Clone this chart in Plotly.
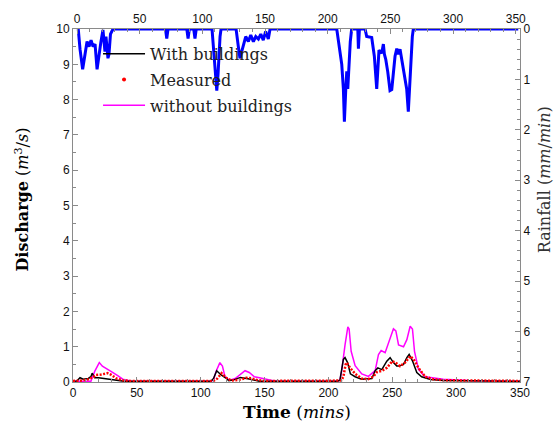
import plotly.graph_objects as go

# ---- Rainfall (top / right axes), time in minutes (top axis scale) ----
rain_t = [0, 1.0, 2.4, 4.5, 6.4, 8, 9.6, 11.2, 12.8, 14.4, 16, 17.6, 19.1, 20.7, 21.5, 22.3, 23.1, 24.7, 25.5, 26.7, 28.7,
          70.6, 71.6, 72.6, 87.6, 88.6, 89.6, 93.1, 94.1, 95.1,
          107.7, 108.9, 110.1, 111.5, 112.5, 113.3, 114.1, 114.9,
          126.9, 128.7, 130, 131.4, 132.7, 134.6, 136.7, 138.6, 140.7, 142.6, 144.7, 146.6, 148.6, 150.5, 152.6, 154,
          207.2, 209.8, 211.2, 212.5, 213.3, 214.4, 215.2, 216, 217, 218, 219.1, 224, 224.5, 225.3,
          229.8, 231.1, 235.1, 237.2, 239.1, 239.9, 240.9, 243.1, 244.4, 245.2, 246.3, 247.9, 249.7, 251.1,
          252.4, 253.7, 255.1, 256.3, 257.7, 259, 260.3, 261.7, 263, 264.3, 265.7, 266.5, 267.5, 268.3, 352]
rain_v = [0, 0, 0.4, 0.8, 0.5, 0.25, 0.35, 0.22, 0.35, 0.3, 0.8, 0.45, 0.25, 0.02, 0.35, 0.45, 0.15, 0.58, 0.5, 0.1, 0,
          0, 0.19, 0, 0, 0.19, 0, 0, 0.19, 0,
          0, 0.4, 0.8, 1.22, 0.9, 0.5, 0.15, 0,
          0, 0.35, 0.58, 0.45, 0.3, 0.15, 0.25, 0.12, 0.25, 0.15, 0.2, 0.1, 0.22, 0.05, 0.2, 0,
          0, 0.42, 0.7, 1.19, 1.84, 1.2, 0.84, 1.19, 0.54, 0.25, 0, 0, 0.39, 0,
          0, 0.15, 0.17, 0.54, 1.19, 0.75, 0.42, 0.48, 0.3, 0.5, 0.6, 0.85, 1.22, 1.2,
          0.92, 0.54, 0.39, 0.5, 0.4, 0.6, 0.8, 1.0, 1.19, 1.64, 0.95, 0.5, 0.15, 0, 0]

# ---- Discharge: with buildings ----
wb_t = [0, 3, 5.5, 8, 12, 14, 15, 17, 20, 24, 28, 32, 36, 40,
        108, 110, 112.5, 116, 120, 122, 126, 131, 136, 141, 146,
        207, 209, 211.7, 213, 215, 217.2, 220.9, 226, 234, 236.6, 238.7, 241.8, 245.7, 248.3, 250.9,
        253.5, 255.3, 258.8, 261.4, 263.2, 265.8, 269.2, 273, 280, 290, 350]
wb_q = [0.02, 0.03, 0.12, 0.08, 0.1, 0.15, 0.25, 0.12, 0.12, 0.1, 0.08, 0.06, 0.04, 0.02,
        0.02, 0.1, 0.32, 0.2, 0.1, 0.04, 0.06, 0.13, 0.1, 0.06, 0.02,
        0.02, 0.05, 0.64, 0.69, 0.55, 0.23, 0.15, 0.08, 0.1, 0.32, 0.4, 0.35, 0.59, 0.69, 0.55,
        0.45, 0.45, 0.5, 0.69, 0.78, 0.6, 0.27, 0.15, 0.07, 0.04, 0.02]

# ---- Discharge: without buildings ----
nb_t = [0, 14, 17, 20.6, 23, 27, 31, 35, 39, 45,
        108, 110, 112, 115, 117, 119, 122.7, 127, 131, 134.7, 138, 142, 146, 150, 155, 160,
        207, 209, 210.4, 213, 215.2, 216.2, 217.8, 220.9, 226.1, 231.3, 236.6, 239.2, 241.3, 244.4,
        248.3, 250.9, 252.8, 254.9, 258.8, 261.4, 264, 265.8, 267.4, 270.5, 275.7, 282, 290, 310, 350]
nb_q = [0.02, 0.02, 0.3, 0.55, 0.45, 0.37, 0.27, 0.18, 0.08, 0.03,
        0.02, 0.05, 0.3, 0.55, 0.45, 0.15, 0.05, 0.1, 0.22, 0.32, 0.27, 0.15, 0.12, 0.08, 0.05, 0.02,
        0.02, 0.05, 0.32, 1.05, 1.56, 1.5, 0.87, 0.46, 0.23, 0.16, 0.32, 0.78, 0.89, 0.83,
        1.28, 1.51, 1.45, 1.05, 1.0, 1.2, 1.58, 1.5, 0.87, 0.36, 0.15, 0.12, 0.08, 0.04, 0.02]

# ---- Discharge: measured ----
ms_t = [0, 7, 12, 16, 18, 22, 27, 30, 34, 39, 45,
        110, 113, 116.4, 120, 124, 130, 136, 140, 145, 150,
        207, 210, 211.7, 212.5, 213.5, 214.3, 217, 221, 226, 231, 235, 238, 242, 246, 250, 252.5,
        256, 260, 264, 266.6, 270.5, 275.7, 282, 290, 310, 350]
ms_q = [0.03, 0.04, 0.08, 0.14, 0.2, 0.21, 0.25, 0.2, 0.1, 0.05, 0.03,
        0.03, 0.1, 0.25, 0.12, 0.04, 0.06, 0.12, 0.1, 0.05, 0.03,
        0.03, 0.04, 0.15, 0.36, 0.5, 0.55, 0.4, 0.23, 0.1, 0.08, 0.15, 0.28, 0.32, 0.41, 0.59, 0.55,
        0.45, 0.55, 0.73, 0.65, 0.4, 0.15, 0.08, 0.05, 0.04, 0.03]

x_ticks = [0, 50, 100, 150, 200, 250, 300, 350]
q_ticks = list(range(0, 11))
r_ticks = list(range(0, 8))

SERIF = "DejaVu Serif"
SANS = "Liberation Sans, Arial, sans-serif"
AX = "#8a8a8a"

fig = go.Figure()
fig.add_trace(go.Scatter(x=rain_t, y=rain_v, xaxis="x2", yaxis="y2", mode="lines",
                         line=dict(color="#0000ff", width=3), showlegend=False))
fig.add_trace(go.Scatter(x=nb_t, y=nb_q, mode="lines", name="without buildings",
                         line=dict(color="#ff00ff", width=1.5), legendrank=3, legendgroup="c"))
fig.add_trace(go.Scatter(x=wb_t, y=wb_q, mode="lines", name="With buildings",
                         line=dict(color="black", width=1.5), legendrank=1, legendgroup="a"))
fig.add_trace(go.Scatter(x=ms_t, y=ms_q, mode="lines", name="Measured", showlegend=False,
                         line=dict(color="red", width=2.5, dash="2px,1.5px")))
fig.add_trace(go.Scatter(x=[None], y=[None], mode="markers", name="Measured",
                         marker=dict(color="red", size=4), legendrank=2, legendgroup="b"))

tickfont = dict(family=SANS, size=12, color="#111")
common = dict(showline=True, linecolor=AX, linewidth=1, ticks="inside", ticklen=5,
              tickcolor=AX, showgrid=False, zeroline=False, tickfont=tickfont)

fig.update_layout(
    width=557, height=433,
    margin=dict(l=73, r=37, t=20, b=51),
    paper_bgcolor="white", plot_bgcolor="white",
    xaxis=dict(range=[0, 350], tickvals=x_ticks, minor=dict(dtick=10, ticklen=3, ticks="inside", tickcolor=AX),
               **common),
    xaxis2=dict(range=[-3.2, 353.4], tickvals=x_ticks, overlaying="x", side="top", anchor="y",
                minor=dict(dtick=10, ticklen=3, ticks="inside", tickcolor=AX), **common),
    yaxis=dict(range=[0, 10], tickvals=q_ticks, minor=dict(dtick=0.5, ticklen=3, ticks="inside", tickcolor=AX),
               **common),
    yaxis2=dict(range=[7, 0], tickvals=r_ticks, overlaying="y", side="right", anchor="x",
                minor=dict(dtick=0.2, ticklen=3, ticks="inside", tickcolor=AX), **common),
    legend=dict(x=0.056, y=0.978, xanchor="left", yanchor="top", bgcolor="rgba(0,0,0,0)",
                font=dict(family=SERIF, size=16, color="#222"), itemwidth=42,
                traceorder="grouped", tracegroupgap=2),
    annotations=[
        dict(text="<b>Discharge</b> (<i>m</i><sup>3</sup>/<i>s</i>)", xref="paper", yref="paper",
             x=-0.114, y=0.517, textangle=-90, showarrow=False, xanchor="center", yanchor="middle",
             font=dict(family=SERIF, size=16, color="black")),
        dict(text="Rainfall (<i>mm</i>/<i>min</i>)", xref="paper", yref="paper",
             x=1.054, y=0.572, textangle=-90, showarrow=False, xanchor="center", yanchor="middle",
             font=dict(family=SERIF, size=16, color="#333")),
        dict(text="<b>Time</b> (<i>mins</i>)", xref="paper", yref="paper",
             x=0.501, y=-0.0856, showarrow=False, xanchor="center", yanchor="middle",
             font=dict(family=SERIF, size=17, color="black")),
    ],
)

fig.write_html("out.html")
